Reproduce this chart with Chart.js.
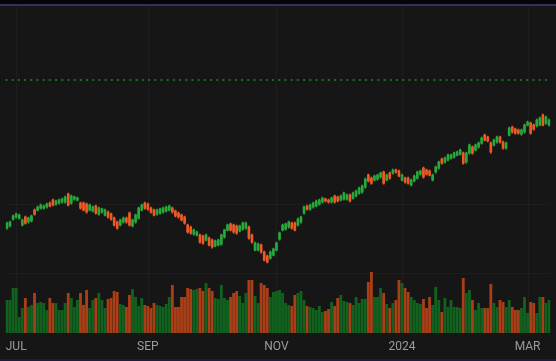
<!DOCTYPE html>
<html>
<head>
<meta charset="utf-8">
<script src="https://cdn.jsdelivr.net/npm/chart.js@4.4.1/dist/chart.umd.min.js"></script>
<style>
html,body{margin:0;padding:0;background:#161616;overflow:hidden;}
canvas{display:block;}
</style>
</head>
<body>
<canvas id="chart" width="556" height="361"></canvas>
<script>
// Daily candles, late Jun 2023 – mid Mar 2024
const openPrices = [
364.6,366.1,371.1,372.6,371.8,366.8,372.6,369.0,369.7,
377.6,377.6,379.0,379.0,379.8,382.6,384.8,381.9,382.6,383.4,
383.4,389.1,382.6,385.5,384.8,382.6,382.6,381.9,377.6,
376.9,380.5,374.7,376.2,374.0,376.2,374.7,371.8,369.0,
366.8,369.0,371.8,375.4,366.1,369.0,371.8,377.6,382.6,381.9,
379.0,377.6,374.7,375.4,376.2,376.9,377.6,379.0,376.9,
375.4,374.0,372.6,366.8,365.4,360.3,359.6,359.6,358.9,356.0,
357.4,356.0,351.7,352.4,353.1,358.2,363.2,367.5,366.8,
366.1,362.5,363.9,364.6,365.4,359.6,348.8,348.8,352.4,
347.4,344.5,343.0,345.2,348.8,356.7,363.2,363.9,365.4,368.2,
368.2,366.8,369.0,375.4,380.5,378.3,379.8,380.5,381.9,
383.4,385.5,384.8,383.4,387.7,387.0,384.8,385.5,385.5,
388.4,386.2,387.7,389.8,390.6,394.2,402.8,400.6,399.2,399.9,
401.4,405.0,399.2,404.2,404.2,406.4,405.7,399.2,400.6,
400.6,395.6,398.5,400.6,403.5,407.8,406.4,405.7,399.2,
405.0,407.8,414.3,412.2,413.6,415.0,415.8,417.2,417.9,418.6,
412.2,418.6,423.0,420.8,423.0,425.8,431.6,430.2,425.8,
424.4,426.6,430.2,426.6,422.2,431.6,437.4,435.9,435.2,432.3,
433.8,438.8,440.2,438.8,438.1,438.8,446.0,440.2,438.8
];
const highPrices = [
369.0,369.7,374.0,375.4,374.7,371.1,373.3,372.6,374.0,
378.3,380.5,381.9,381.2,382.6,383.4,385.5,384.8,385.5,386.2,
387.7,389.8,388.4,387.7,387.0,383.4,383.4,382.6,381.9,
380.5,381.2,379.8,379.0,378.3,376.9,375.4,372.6,369.7,
371.1,372.6,372.6,376.2,371.1,374.7,379.8,381.9,383.4,382.6,
379.8,378.3,378.3,379.0,379.8,380.5,381.2,379.8,377.6,
376.2,374.7,373.3,367.5,366.1,363.9,362.5,360.3,359.6,360.3,
358.2,356.7,356.0,356.7,360.3,363.9,367.5,368.2,367.5,
366.8,366.8,369.0,369.0,366.1,360.3,354.6,353.8,353.1,
348.1,345.2,348.1,350.2,354.6,361.8,367.5,368.2,369.7,369.0,
369.0,371.8,373.3,380.5,381.2,381.9,383.4,384.8,385.5,
387.0,386.2,385.5,387.0,388.4,387.7,388.4,390.6,389.1,
389.1,390.6,392.0,394.2,395.6,400.6,403.5,401.4,402.8,403.5,
405.0,405.7,403.5,405.0,407.1,407.1,406.4,403.5,401.4,
401.4,399.9,402.8,405.7,406.4,408.6,407.1,406.4,403.5,
409.3,412.9,415.0,415.8,417.9,417.9,419.4,420.1,421.5,419.4,
419.4,425.1,423.7,425.1,426.6,430.2,432.3,430.9,426.6,
428.7,430.9,430.9,427.3,426.6,437.4,438.1,436.6,435.9,435.9,
439.5,441.7,441.0,439.5,443.1,444.6,446.7,445.3,443.1
];
const lowPrices = [
363.9,365.4,370.4,371.8,371.1,366.1,367.5,368.2,369.0,
374.0,376.9,378.3,378.3,379.0,379.8,380.5,381.2,381.9,382.6,
382.6,380.5,381.9,384.8,384.1,378.3,376.9,375.4,376.9,
376.2,374.7,374.0,375.4,373.3,371.8,370.4,366.1,363.9,
366.1,368.2,368.2,366.1,365.4,368.2,371.1,376.9,378.3,377.6,
375.4,373.3,374.0,374.7,375.4,376.2,376.9,375.4,372.6,
371.8,369.7,367.5,361.0,360.3,359.6,358.9,353.8,353.1,355.3,
351.7,350.2,351.0,351.7,352.4,357.4,362.5,362.5,361.0,
360.3,361.8,363.2,363.9,356.7,353.8,348.1,348.1,346.6,
340.9,339.5,342.3,344.5,348.1,356.0,362.5,363.2,364.6,363.9,
362.5,366.1,368.2,374.7,377.6,377.6,379.0,379.8,381.2,
382.6,383.4,382.6,382.6,382.6,383.4,384.1,384.8,384.8,
383.4,385.5,387.0,389.1,389.8,393.4,397.8,396.3,398.5,399.2,
400.6,396.3,398.5,399.9,403.5,404.2,401.4,398.5,397.0,
396.3,394.9,397.8,399.9,402.8,400.6,402.8,402.1,398.5,
404.2,407.1,410.7,411.4,412.9,414.3,415.0,416.5,417.2,410.7,
411.4,417.9,417.9,420.1,422.2,425.1,427.3,426.6,418.6,
423.7,425.8,425.8,421.5,421.5,430.9,433.0,432.3,432.3,431.6,
433.0,438.1,432.3,435.2,437.4,438.1,438.1,439.5,438.1
];
const closePrices = [
368.2,369.0,373.3,374.7,374.0,370.4,368.2,371.8,373.3,
374.7,379.8,381.2,380.5,381.9,380.5,381.2,384.1,384.8,385.5,
387.0,381.2,387.7,387.0,386.2,379.0,377.6,376.2,381.2,
379.8,375.4,379.0,378.3,377.6,372.6,371.1,366.8,364.6,
370.4,371.8,369.0,366.8,370.4,374.0,379.0,381.2,379.0,378.3,
376.2,374.0,377.6,378.3,379.0,379.8,380.5,376.2,373.3,
372.6,370.4,368.2,361.8,361.0,363.2,361.8,354.6,353.8,359.6,
352.4,351.0,355.3,356.0,359.6,363.2,366.8,363.2,361.8,
361.0,366.1,368.2,368.2,357.4,354.6,353.8,353.1,347.4,
341.6,340.2,347.4,349.5,353.8,361.0,366.8,367.5,369.0,364.6,
363.2,371.1,372.6,379.8,378.3,381.2,382.6,384.1,384.8,
386.2,384.1,383.4,386.2,383.4,384.1,387.7,389.8,388.4,
384.1,389.8,391.3,393.4,394.9,399.9,398.5,397.0,402.1,402.8,
404.2,397.0,402.8,400.6,406.4,405.0,402.1,402.8,397.8,
397.0,399.2,402.1,405.0,405.7,401.4,403.5,402.8,402.8,
408.6,412.2,411.4,415.0,417.2,417.2,418.6,419.4,420.8,411.4,
418.6,424.4,418.6,424.4,425.8,429.4,428.0,427.3,419.4,
428.0,430.2,426.6,422.2,425.8,436.6,433.8,433.0,433.0,435.2,
438.8,441.0,433.0,435.9,442.4,443.8,438.8,444.6,442.4
];
const volumes = [
33,33,45,45,16,25,35,26,28,
40,30,31,30,23,35,30,30,23,23,
30,40,35,26,33,40,28,43,25,
33,35,40,33,25,34,35,42,41,
29,28,26,38,44,36,27,35,28,27,
25,30,28,27,26,29,36,48,26,
26,36,36,45,44,43,44,45,42,50,
45,42,35,34,48,35,33,36,40,
42,37,30,40,53,53,37,30,50,
48,45,36,41,42,43,40,30,28,27,
38,40,42,33,27,26,25,23,27,
21,22,24,31,27,35,38,32,31,
30,28,36,30,34,34,51,61,36,36,
45,40,29,25,30,33,53,50,45,
41,36,33,30,29,34,25,36,28,
46,33,21,35,26,33,26,26,25,55,
40,43,33,23,30,25,25,25,49,
30,26,33,31,26,33,26,23,23,25,
36,20,31,30,20,36,36,30,33
];
// [candle index, label] for the time axis
const monthTicks = [[3,'JUL'],[46,'SEP'],[88,'NOV'],[129,'2024'],[170,'MAR']];
// dotted horizontal reference level
const referenceLevel = 471.2;

const categories = closePrices.map((_, i) => {
  const t = monthTicks.find(m => m[0] === i);
  return t ? t[1] : '';
});

const UP = '#27a83b', DOWN = '#ee5a26';
const VOL_UP = '#12621f', VOL_DOWN = '#a93f16';
const isUp = i => closePrices[i] >= openPrices[i];

const decor = {
  id: 'decor',
  beforeDraw(chart) {
    const { ctx, width, height, chartArea: a, scales } = chart;
    ctx.save();
    ctx.fillStyle = '#161616';
    ctx.fillRect(0, 0, width, height);
    ctx.fillStyle = '#060606';
    ctx.fillRect(0, 0, width, 4);
    ctx.fillStyle = '#3b2b5e';
    ctx.fillRect(0, 4, width, 2);
    ctx.fillStyle = '#1e1b3c';
    ctx.fillRect(0, height - 2, width, 2);
    // faint grid at month ticks
    ctx.strokeStyle = 'rgba(255,255,255,0.03)';
    ctx.lineWidth = 1;
    monthTicks.forEach(([idx]) => {
      const px = Math.round(scales.x.getPixelForValue(idx)) + 0.5;
      ctx.beginPath(); ctx.moveTo(px, a.top); ctx.lineTo(px, a.bottom); ctx.stroke();
    });
    // pane separator and price grid
    const sy = Math.round(scales.yv.getPixelForValue(60)) + 0.5;
    ctx.beginPath(); ctx.moveTo(a.left, sy); ctx.lineTo(a.right, sy); ctx.stroke();
    const gy = Math.round(scales.y.getPixelForValue(381.9)) + 0.5;
    ctx.beginPath(); ctx.moveTo(a.left, gy); ctx.lineTo(a.right, gy); ctx.stroke();
    // dotted reference line
    const ry = scales.y.getPixelForValue(referenceLevel);
    ctx.strokeStyle = '#1f8a30';
    ctx.lineWidth = 1.6;
    ctx.setLineDash([2, 4.2]);
    ctx.beginPath(); ctx.moveTo(a.left, ry); ctx.lineTo(a.right, ry); ctx.stroke();
    ctx.restore();
  }
};

new Chart(document.getElementById('chart'), {
  type: 'bar',
  data: {
    labels: categories,
    datasets: [
      {
        label: 'wick',
        data: lowPrices.map((l, i) => [l, highPrices[i]]),
        yAxisID: 'y',
        grouped: false,
        barThickness: 1,
        borderWidth: 0,
        backgroundColor: c => isUp(c.dataIndex) ? UP : DOWN,
        order: 1
      },
      {
        label: 'body',
        data: openPrices.map((o, i) => [o, closePrices[i]]),
        yAxisID: 'y',
        grouped: false,
        barThickness: 2,
        borderWidth: 0,
        backgroundColor: c => isUp(c.dataIndex) ? UP : DOWN,
        order: 0
      },
      {
        label: 'volume',
        data: volumes,
        yAxisID: 'yv',
        grouped: false,
        categoryPercentage: 1,
        barPercentage: 0.93,
        borderWidth: 0,
        backgroundColor: c => isUp(c.dataIndex) ? VOL_UP : VOL_DOWN,
        order: 2
      }
    ]
  },
  options: {
    responsive: false,
    animation: false,
    events: [],
    layout: { padding: { top: 6, left: 0, right: 0, bottom: 0 } },
    plugins: { legend: { display: false }, tooltip: { enabled: false } },
    scales: {
      x: {
        type: 'category',
        offset: true,
        grid: { display: false, drawTicks: false },
        border: { display: false },
        ticks: {
          autoSkip: false,
          maxRotation: 0,
          minRotation: 0,
          padding: 7,
          color: '#9c9c9c',
          font: { family: 'Roboto', size: 12 },
          callback: (v) => categories[v]
        },
        afterFit: s => { s.height = 28; }
      },
      y: { display: false, min: 289.1, max: 524.5 },
      yv: { display: false, min: 0, max: 327 }
    }
  },
  plugins: [decor]
});
</script>
</body>
</html>
